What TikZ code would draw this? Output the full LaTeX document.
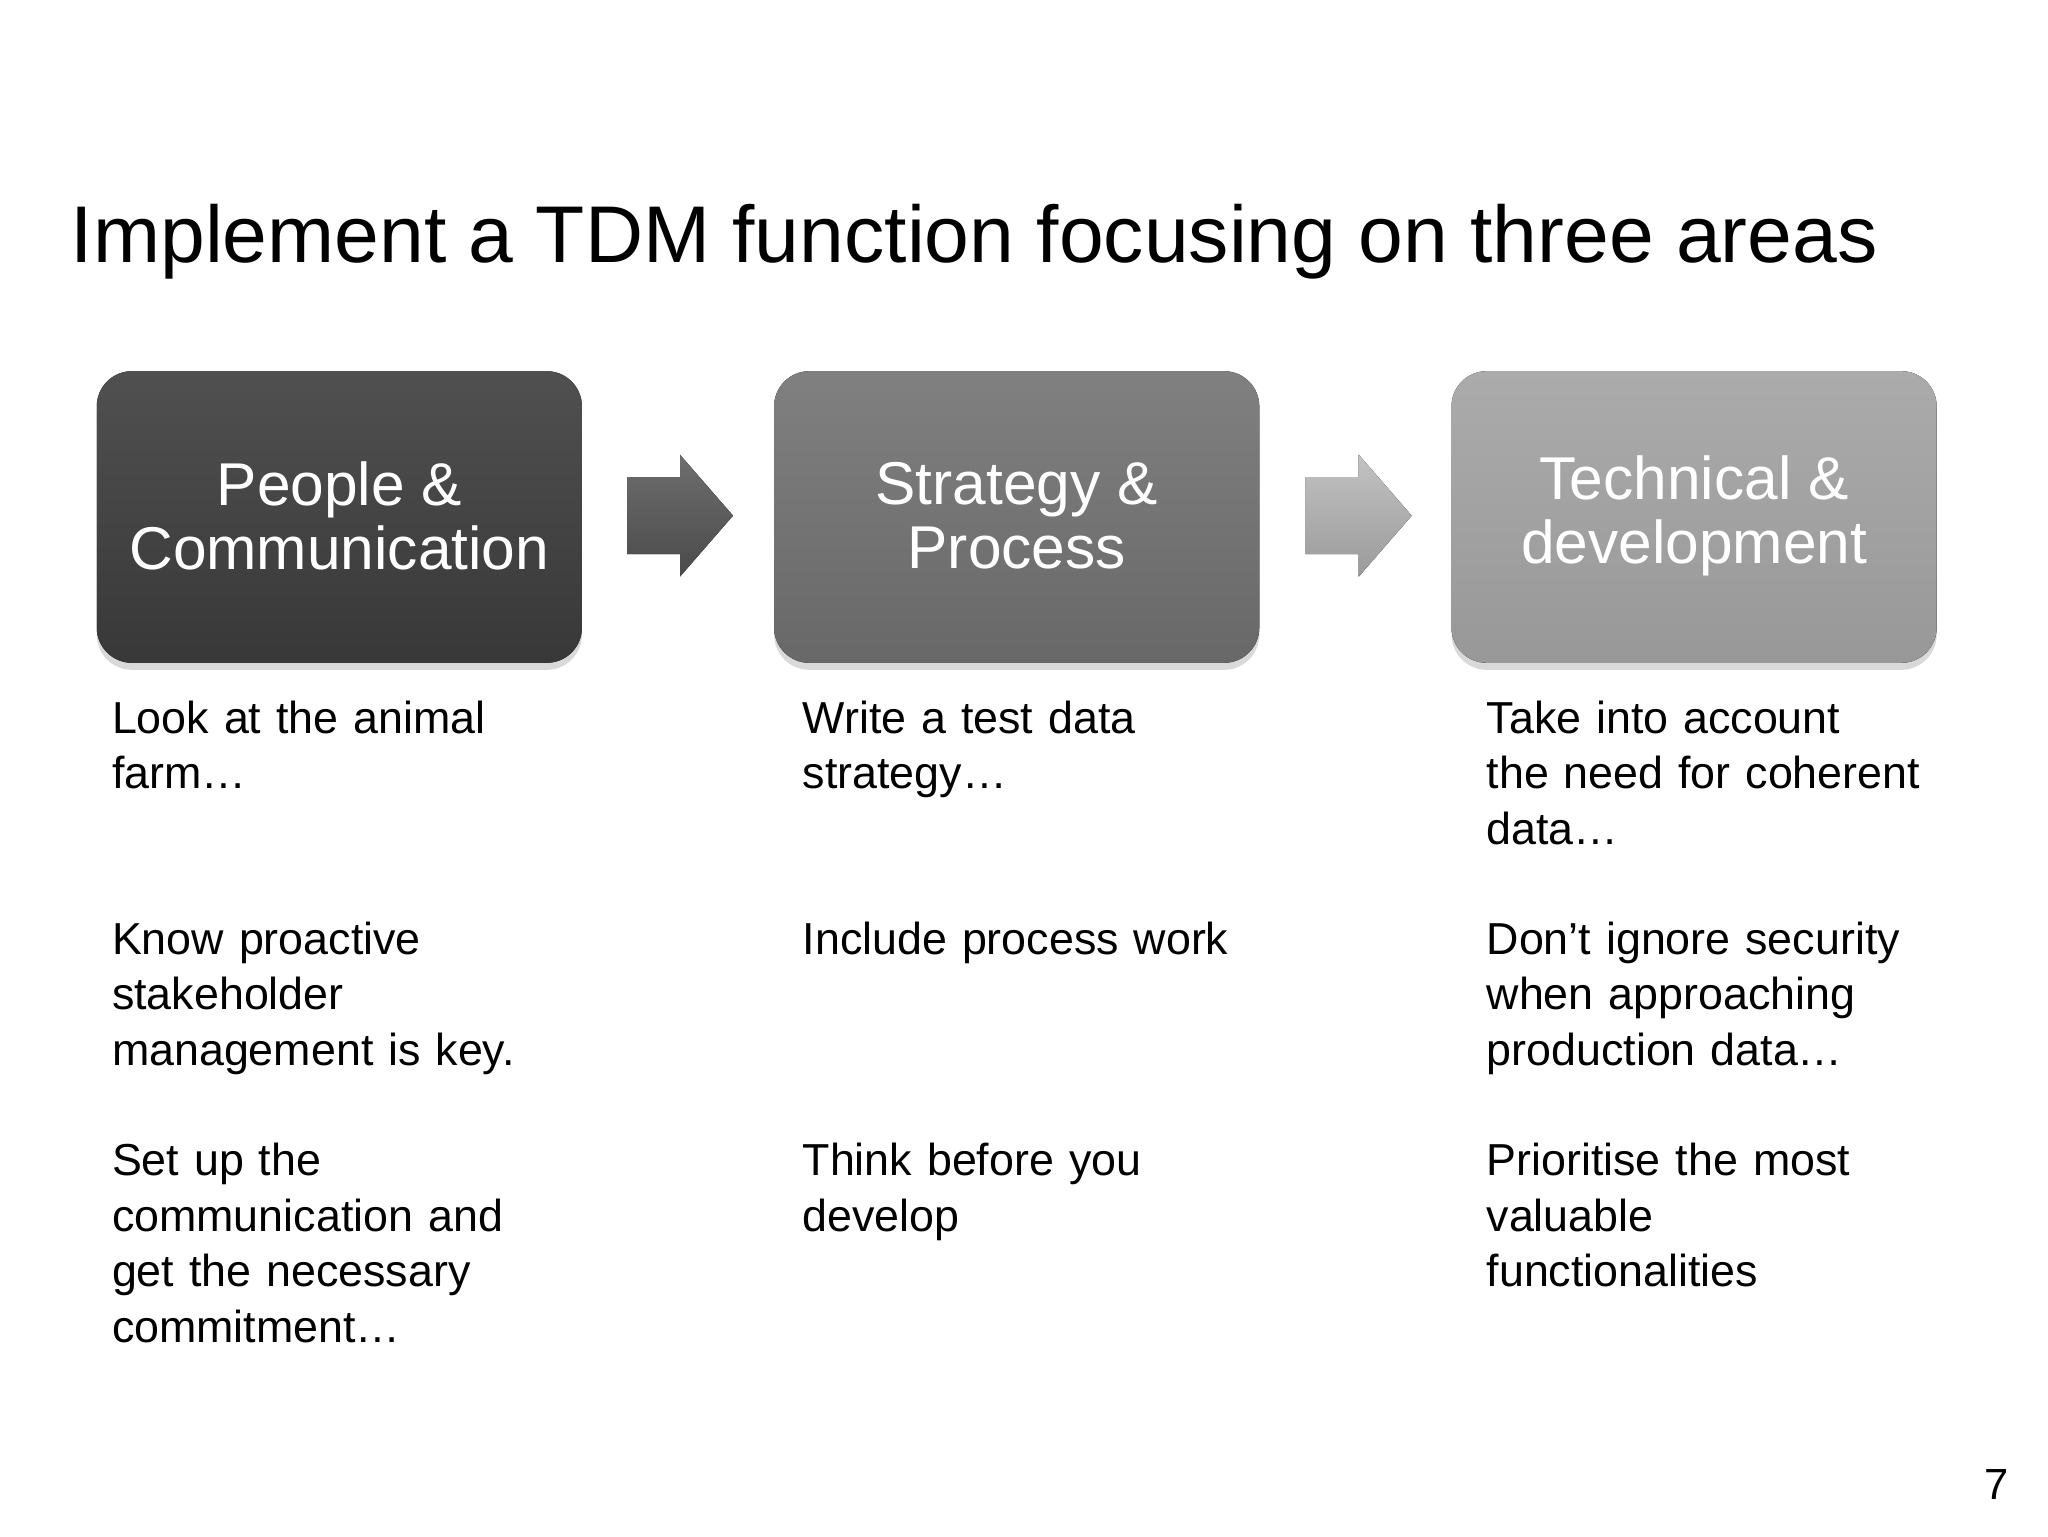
\documentclass[tikz,border=0pt]{standalone}
\usepackage{fontspec}
\setmainfont{Liberation Sans}
\usetikzlibrary{shadows}
\begin{document}
\begin{tikzpicture}[x=0.013256cm,y=-0.013256cm,
  body/.style={anchor=north west,align=left,font=\fontsize{12.75}{15.8}\selectfont,text width=5cm,inner sep=0pt}]
\useasboundingbox (0,0) rectangle (1545,1159);
\node[anchor=west,font=\fontsize{22.9}{28}\selectfont,inner sep=0pt] (title) at (53,182) {Implement a TDM function focusing on three areas};
\foreach \n/\x/\c/\d/\t in {a/73/505050/383838/{People \&\\Communication},b/584/808080/686868/{Strategy \&\\Process},c/1095/ababab/989898/{Technical \&\\development}}{
  \definecolor{top\n}{HTML}{\c}\definecolor{bot\n}{HTML}{\d}
  \fill[top color=top\n,bottom color=bot\n,rounded corners=10pt,drop shadow={shadow xshift=0pt,shadow yshift=-2pt,opacity=0.3}] (\x,280) rectangle ++(366,220);
  \node[text=white,align=center,font=\fontsize{17.2}{18.2}\selectfont] (\n) at (\x+183,389) {\t};
}
\definecolor{arA}{HTML}{4a4a4a}\definecolor{arB}{HTML}{9a9a9a}
\coordinate (p1) at (473,389);
\coordinate (p2) at (985,389);
\fill[top color=arA!80,bottom color=arA] ([shift={(0,-29)}]p1) -- ++(40,0) -- ++(0,-17) -- ++(40,46) -- ++(-40,46) -- ++(0,-17) -- ++(-40,0) -- cycle;
\fill[top color=arB!60!white,bottom color=arB] ([shift={(0,-29)}]p2) -- ++(40,0) -- ++(0,-17) -- ++(40,46) -- ++(-40,46) -- ++(0,-17) -- ++(-40,0) -- cycle;
\node[body] (a1) at (84,528) {Look at the animal\\farm\dots};
\node[body] (a2) at (84,695) {Know proactive\\stakeholder\\management is key.};
\node[body] (a3) at (84,862) {Set up the\\communication and\\get the necessary\\commitment\dots};
\node[body] (b1) at (605,528) {Write a test data\\strategy\dots};
\node[body] (b2) at (605,695) {Include process work};
\node[body] (b3) at (605,862) {Think before you\\develop};
\node[body] (c1) at (1121,528) {Take into account\\the need for coherent\\data\dots};
\node[body] (c2) at (1121,695) {Don’t ignore security\\when approaching\\production data\dots};
\node[body] (c3) at (1121,862) {Prioritise the most\\valuable\\functionalities};
\node[font=\fontsize{12.4}{14}\selectfont] (pg) at (1506,1120) {7};
\end{tikzpicture}
\end{document}
